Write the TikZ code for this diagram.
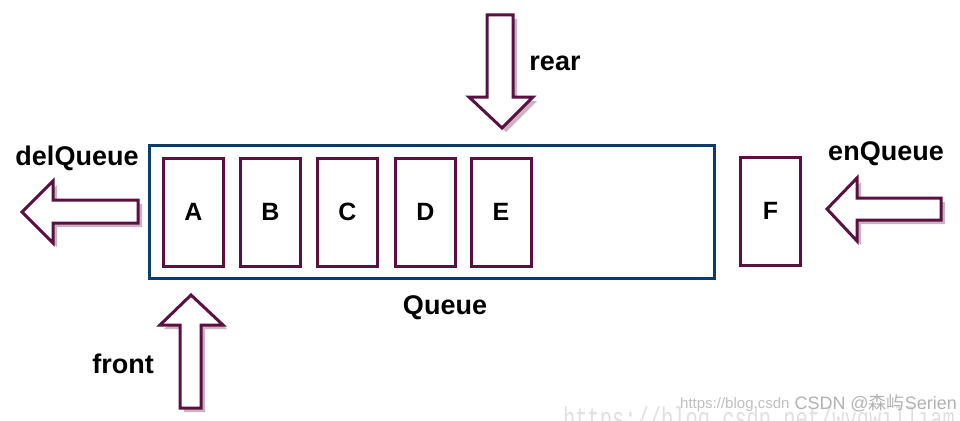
\documentclass[tikz,border=0pt]{standalone}
\usepackage{fontspec}
\setmainfont{Liberation Sans}
\newfontfamily\cjk{Noto Sans CJK SC}
\newfontfamily\wmono{Liberation Mono}
\definecolor{maroon}{HTML}{5A1040}
\definecolor{qblue}{HTML}{0B3C6B}
\definecolor{shade}{HTML}{CDB3C1}
\begin{document}
\begin{tikzpicture}[x=1pt,y=-1pt,
  cell/.style={draw=maroon,line width=3pt,minimum width=60pt,minimum height=108pt,inner sep=0pt,font=\fontsize{25}{29}\selectfont\bfseries},
  lbl/.style={font=\fontsize{27}{31}\selectfont\bfseries,inner sep=0pt},
  arrowline/.style={draw=maroon,line width=3pt,fill=white,line join=miter},
  arrowshadow/.style={fill=shade},
  wm/.style={text=black!20,inner sep=0pt}]
\useasboundingbox (0,0) rectangle (960,420);
% queue
\node[draw=qblue,line width=3pt,minimum width=565pt,minimum height=133pt,inner sep=0pt] (queue) at (431.5,211.5) {};
\node[cell] (a) at (193.5,212) {A};
\node[cell] (b) at (270.5,212) {B};
\node[cell] (c) at (347.5,212) {C};
\node[cell] (d) at (425.5,212) {D};
\node[cell] (e) at (501,212) {E};
\node[cell] (f) at (770.5,211) {F};
% labels
\node[lbl] (qlbl) at (445,308) {Queue};
\node[lbl] (rearlbl) at (555,63) {rear};
\node[lbl] (dellbl) at (77,158) {delQueue};
\node[lbl] (enlbl) at (886,154) {enQueue};
\node[lbl] (frontlbl) at (123,364) {front};
% rear arrow (down)
\def\reararrow{(487,15) -- (513,15) -- (513,97) -- (533,97) -- (502,128) -- (469,97) -- (487,97) -- cycle}
\fill[arrowshadow,shift={(4,4)}] \reararrow;
\path[arrowline] \reararrow;
% delQueue arrow (left)
\def\delarrow{(138,200) -- (138,223) -- (53,223) -- (53,243) -- (22,212) -- (53,181) -- (53,200) -- cycle}
\fill[arrowshadow,shift={(4,4)}] \delarrow;
\path[arrowline] \delarrow;
% enQueue arrow (left)
\def\enarrow{(941,198) -- (941,220) -- (857,220) -- (857,241) -- (827,209) -- (857,178) -- (857,198) -- cycle}
\fill[arrowshadow,shift={(4,4)}] \enarrow;
\path[arrowline] \enarrow;
% front arrow (up)
\def\frontarrow{(180,408) -- (201,408) -- (201,325) -- (223,325) -- (191,295) -- (160,325) -- (180,325) -- cycle}
\fill[arrowshadow,shift={(4,4)}] \frontarrow;
\path[arrowline] \frontarrow;
% watermarks
\node[wm,anchor=base west,xscale=0.68,font=\wmono\fontsize{30}{30}\selectfont,text=black!12] (wm1) at (563,428) {https://blog.csdn.net/wyqwilliam};
\node[wm,anchor=base west,font=\fontsize{15}{17}\selectfont,text=black!25] (wm2) at (680,408) {https://blog.csdn};
\node[wm,anchor=base east,font=\fontsize{18}{20}\selectfont,text=black!30] (wm3) at (957,409) {CSDN @{\cjk 森屿}Serien};
\end{tikzpicture}
\end{document}
